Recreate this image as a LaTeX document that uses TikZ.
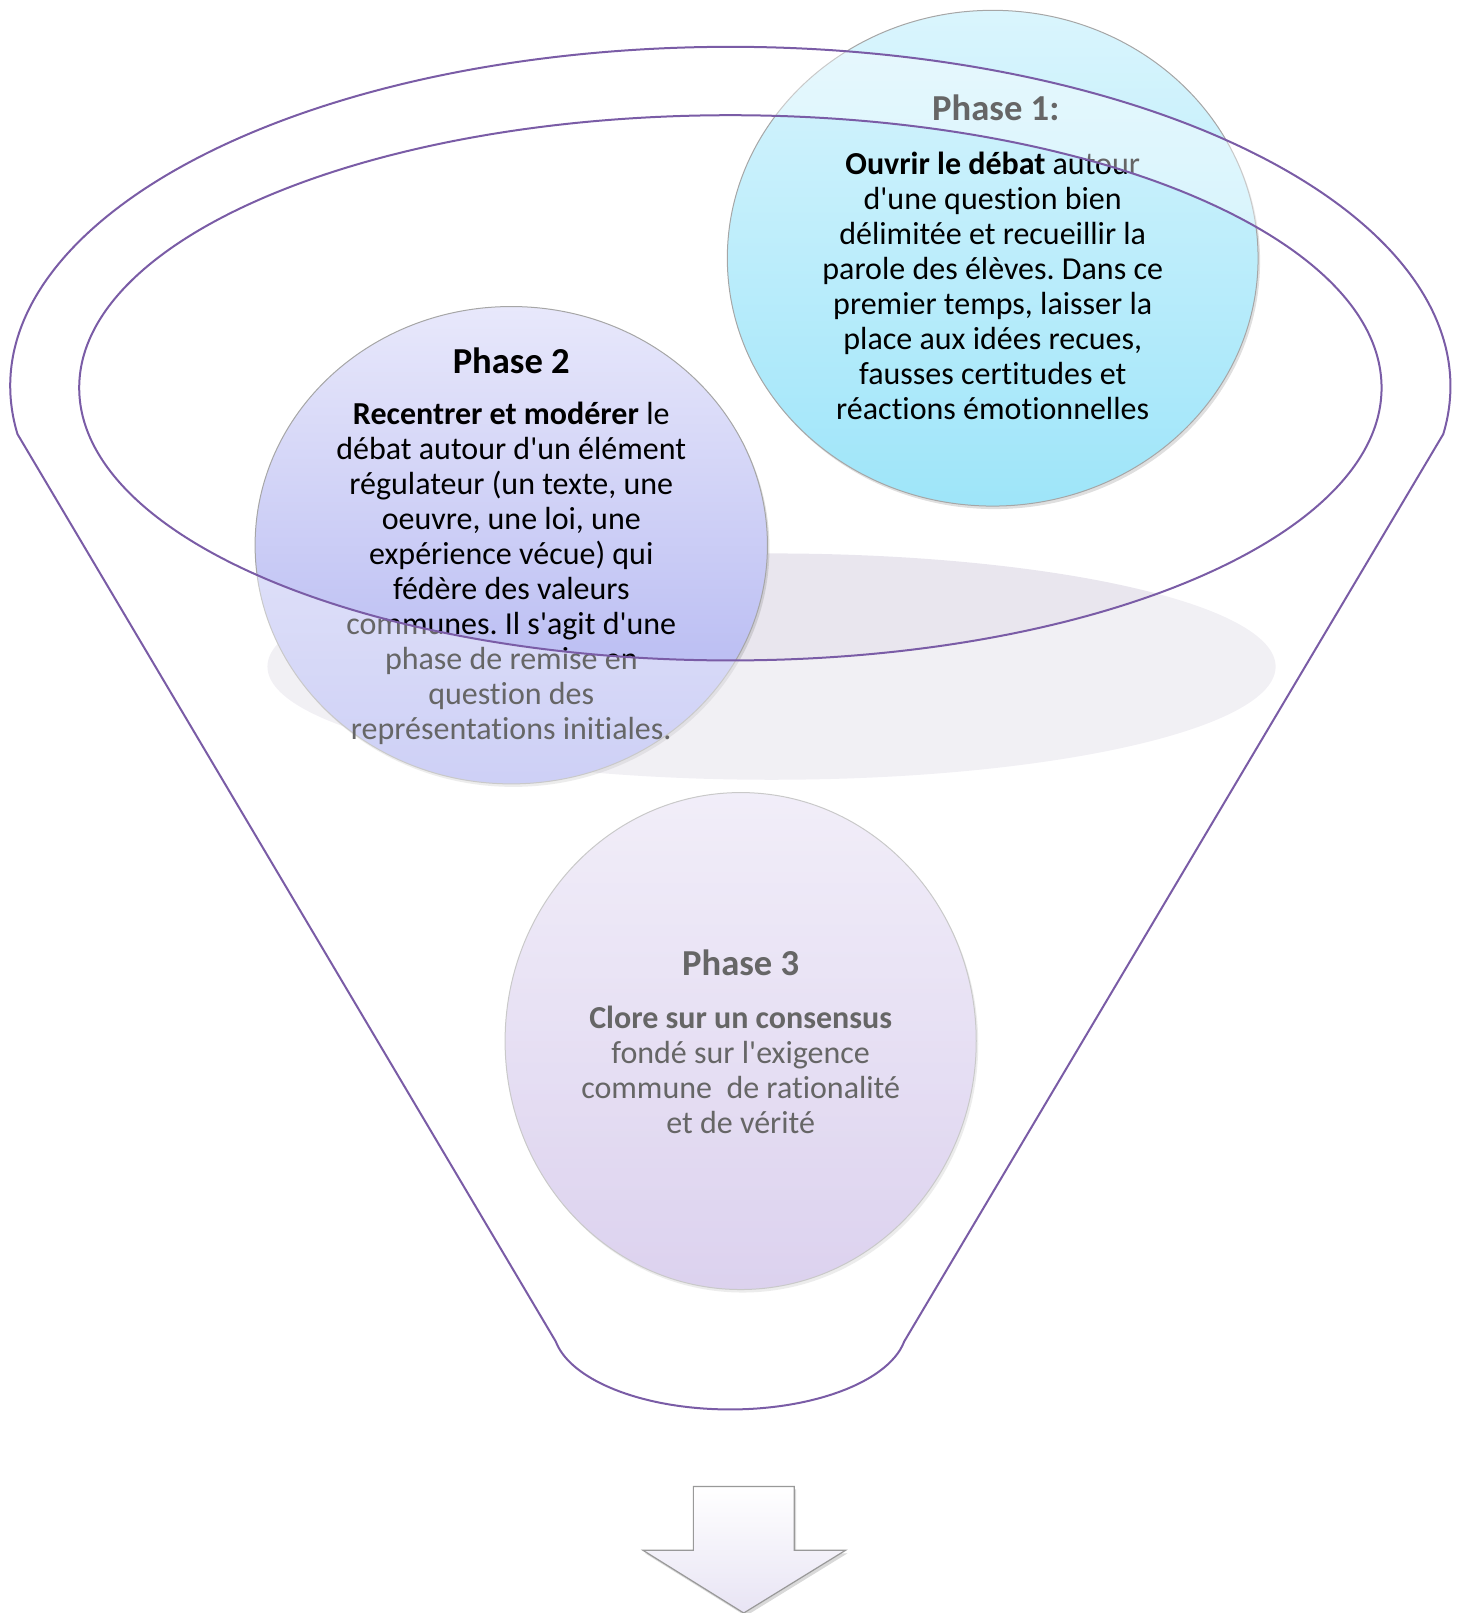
\documentclass[tikz,border=0pt]{standalone}
\usepackage{fontspec}
\setmainfont{Carlito}[Ligatures={TeXOff,NoCommon,NoContextual},Contextuals=NoAlternate]
\usepackage{xcolor}
\usetikzlibrary{shapes.geometric, shadows}
\frenchspacing

\definecolor{funnelpurple}{HTML}{7A5CA6}
\definecolor{floorgray}{HTML}{E9E6EE}

\tikzset{
  phase/.style={ellipse, draw=gray!70, line width=0.5pt, inner sep=0pt,
    drop shadow={opacity=0.25, shadow xshift=1pt, shadow yshift=-1.5pt}},
  phasetitle/.style={font=\fontsize{18.3}{22}\selectfont\bfseries},
  phasetext/.style={align=center, font=\fontsize{16}{17.5}\selectfont},
  funnelline/.style={draw=funnelpurple, line width=1pt}
}

\begin{document}
\begin{tikzpicture}[x=0.5144pt, y=0.5144pt]
\useasboundingbox (0,0) rectangle (1419,-1568);

% floor of the funnel
\fill[floorgray] (750,-648) ellipse[x radius=490, y radius=110];

% the three phases
\node (phase1) [phase, minimum width=265.4pt, minimum height=247.9pt, top color={rgb,255:red,218;green,245;blue,253}, bottom color={rgb,255:red,158;green,229;blue,249}] at (965,-251) {};
\node (title1) [phasetitle] at (968,-105) {Phase 1:};
\node (text1) [phasetext] at (965,-278) {\textbf{Ouvrir le débat} autour\\d'une question bien\\délimitée et recueillir la\\parole des élèves. Dans ce\\premier temps, laisser la\\place aux idées recues,\\fausses certitudes et\\réactions émotionnelles};

\node (phase2) [phase, minimum width=256.2pt, minimum height=238.7pt, top color={rgb,255:red,232;green,232;blue,251}, bottom color={rgb,255:red,173;green,177;blue,240}] at (497,-530) {};
\node (title2) [phasetitle] at (497,-351) {Phase 2};
\node (text2) [phasetext] at (497,-557) {\textbf{Recentrer et modérer} le\\débat autour d'un élément\\régulateur (un texte, une\\oeuvre, une loi, une\\expérience vécue) qui\\fédère des valeurs\\communes. Il s'agit d'une\\phase de remise en\\question des\\représentations initiales.};

\node (phase3) [phase, minimum width=235.6pt, minimum height=248.5pt, top color={rgb,255:red,233;green,227;blue,245}, bottom color={rgb,255:red,197;green,180;blue,228}] at (720,-1012) {};
\node (title3) [phasetitle] at (720,-936) {Phase 3};
\node (text3) [phasetext] at (720,-1040) {\textbf{Clore sur un consensus}\\fondé sur l'exigence\\commune\ \ de rationalité\\et de vérité};

% funnel body, veiling what lies outside the mouth
\fill[white, opacity=0.4, even odd rule]
  (17,-422) arc[start angle=188.1, end angle=-8.1, x radius=700, y radius=330]
  -- (879,-1304) arc[start angle=350, end angle=190, x radius=172, y radius=80] -- cycle
  (710,-377) ellipse[x radius=633, y radius=265];

% funnel outline
\draw[funnelline]
  (17,-422) arc[start angle=188.1, end angle=-8.1, x radius=700, y radius=330]
  -- (879,-1304) arc[start angle=350, end angle=190, x radius=172, y radius=80] -- cycle;
\draw[funnelline] (710,-377) ellipse[x radius=633, y radius=265];

% result arrow
\draw[gray!80, line width=0.6pt, top color=white, bottom color={rgb,255:red,232;green,228;blue,244},
  drop shadow={opacity=0.3, shadow xshift=1pt, shadow yshift=-1.5pt}]
  (674,-1445) -- (772,-1445) -- (772,-1507) -- (822,-1507) -- (723,-1568)
  -- (625,-1507) -- (674,-1507) -- cycle;
\end{tikzpicture}
\end{document}
